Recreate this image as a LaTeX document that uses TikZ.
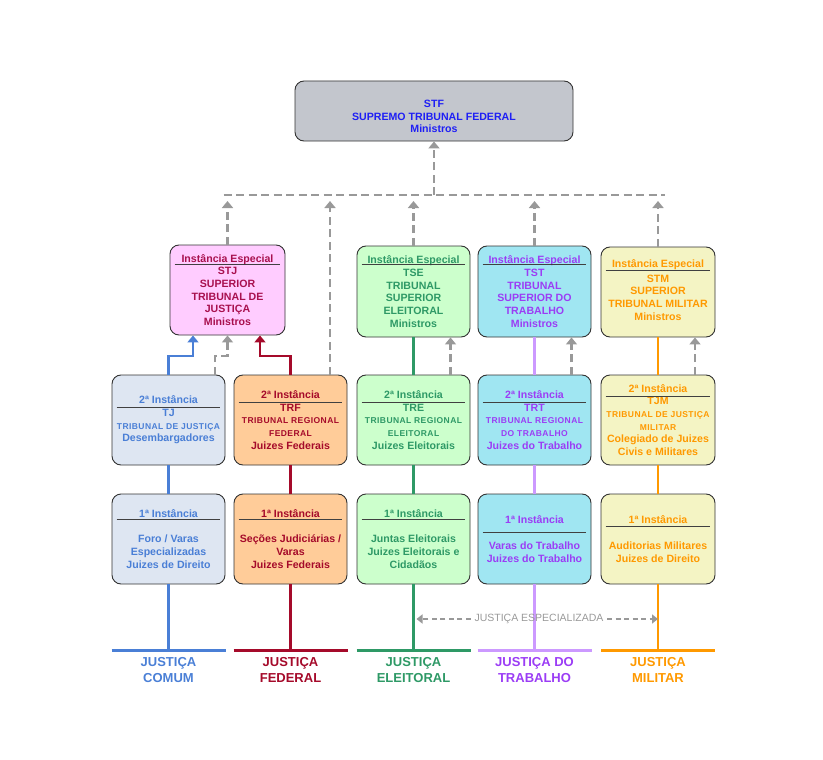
\documentclass[tikz,border=0pt]{standalone}
\usepackage{fontspec}
\setmainfont{Liberation Sans}
\newfontfamily\estreita[LetterSpace=5]{Liberation Sans}
\usetikzlibrary{arrows.meta, positioning, calc}

\definecolor{cinza}{HTML}{999999}
\definecolor{stfcor}{HTML}{C3C6CD}
\definecolor{stftxt}{HTML}{1F1FF5}
\definecolor{stjcor}{HTML}{FFCCFF}
\definecolor{stjtxt}{HTML}{A8104E}
\definecolor{azulcor}{HTML}{DEE6F2}
\definecolor{azul}{HTML}{4A7FD6}
\definecolor{vermcor}{HTML}{FFCC99}
\definecolor{verm}{HTML}{A50A2A}
\definecolor{verdecor}{HTML}{CCFFCC}
\definecolor{verde}{HTML}{2E9966}
\definecolor{ciano}{HTML}{A0E6F2}
\definecolor{roxo}{HTML}{9B3DF5}
\definecolor{lilas}{HTML}{CC99FF}
\definecolor{amarcor}{HTML}{F4F4C4}
\definecolor{laranja}{HTML}{FF9900}

\newcommand\miuda[1]{{\estreita\fontsize{8.5}{12.6}\selectfont #1}}

\begin{document}
\begin{tikzpicture}[x=1pt, y=-1pt,
  caixa/.style={draw=black!80, line width=0.9pt, rounded corners=9pt,
    minimum width=113pt, minimum height=90pt, inner sep=0pt, align=center,
    font=\bfseries\fontsize{10.6}{12.7}\selectfont},
  regra/.style={draw=black!75, line width=0.9pt},
  tracejada/.style={draw=cinza, line width=2.6pt, dash pattern=on 8pt off 4.5pt},
  seta/.style={-{Triangle[width=11pt,length=7pt]}},
  linha/.style={line width=2.6pt},
  base/.style={line width=3pt},
  rotulo/.style={align=center, font=\bfseries\fontsize{13}{16}\selectfont}]
\useasboundingbox (0,0) rectangle (823,760);

\coordinate (barra) at (434,195);
\coordinate (ponta) at (0,201);
\coordinate (dobra) at (0,356);
\coordinate (base) at (0,650);
\coordinate (rot) at (0,670);

% STF
\node[caixa, fill=stfcor, minimum width=278pt, minimum height=60pt, text=stftxt] (stf) at (434,111)
  {\rule{0pt}{18.6pt}STF\\SUPREMO TRIBUNAL FEDERAL\\Ministros};

% instancia especial
\node[caixa, fill=stjcor, text=stjtxt, minimum width=115pt] (stj) at (227.5,290)
  {Instância Especial\\STJ\\SUPERIOR\\TRIBUNAL DE\\JUSTIÇA\\Ministros};
\node[caixa, fill=verdecor, text=verde, minimum height=91pt] (tse) at (413.5,291.5)
  {Instância Especial\\TSE\\TRIBUNAL\\SUPERIOR\\ELEITORAL\\Ministros};
\node[caixa, fill=ciano, text=roxo, minimum height=91pt] (tst) at (534.5,291.5)
  {Instância Especial\\TST\\TRIBUNAL\\SUPERIOR DO\\TRABALHO\\Ministros};
\node[caixa, fill=amarcor, text=laranja, minimum width=114pt] (stm) at (658,292)
  {Instância Especial\\[1.5pt]STM\\SUPERIOR\\TRIBUNAL MILITAR\\Ministros\rule[-4pt]{0pt}{1pt}};

% 2a instancia
\node[caixa, fill=azulcor, text=azul] (tj) at (168.5,420)
  {2ª Instância\\TJ\\\miuda{TRIBUNAL DE JUSTIÇA}\\Desembargadores};
\node[caixa, fill=vermcor, text=verm] (trf) at (290.5,420)
  {2ª Instância\\TRF\\\miuda{TRIBUNAL REGIONAL}\\\miuda{FEDERAL}\\Juizes Federais};
\node[caixa, fill=verdecor, text=verde] (tre) at (413.5,420)
  {2ª Instância\\TRE\\\miuda{TRIBUNAL REGIONAL}\\\miuda{ELEITORAL}\\Juizes Eleitorais};
\node[caixa, fill=ciano, text=roxo] (trt) at (534.5,420)
  {2ª Instância\\TRT\\\miuda{TRIBUNAL REGIONAL}\\\miuda{DO TRABALHO}\\Juizes do Trabalho};
\node[caixa, fill=amarcor, text=laranja, minimum width=114pt] (tjm) at (658,420)
  {2ª Instância\\TJM\\\miuda{TRIBUNAL DE JUSTIÇA}\\\miuda{MILITAR}\\Colegiado de Juizes\\Civis e Militares};

% 1a instancia
\node[caixa, fill=azulcor, text=azul] (foro) at (168.5,539)
  {1ª Instância\\[12.5pt]Foro / Varas\\Especializadas\\Juizes de Direito};
\node[caixa, fill=vermcor, text=verm] (secoes) at (290.5,539)
  {1ª Instância\\[12.5pt]Seções Judiciárias /\\Varas\\Juizes Federais};
\node[caixa, fill=verdecor, text=verde] (juntas) at (413.5,539)
  {1ª Instância\\[12.5pt]Juntas Eleitorais\\Juizes Eleitorais e\\Cidadãos};
\node[caixa, fill=ciano, text=roxo] (varas) at (534.5,539)
  {1ª Instância\\[14pt]Varas do Trabalho\\Juizes do Trabalho};
\node[caixa, fill=amarcor, text=laranja, minimum width=114pt] (auditorias) at (658,539)
  {1ª Instância\\[14pt]Auditorias Militares\\Juizes de Direito};

% reguas sob os titulos
\foreach \n/\d in {stj/20, tse/19, tst/19, stm/24, tj/33, trf/28, tre/28, trt/28, tjm/22,
    foro/26, secoes/26, juntas/26, varas/39, auditorias/33}
  \draw[regra] ($(\n.north west)+(5,\d)$) -- ($(\n.north east)+(-5,\d)$);

% ligacoes ao STF
\draw[tracejada, seta] (barra) -- (stf.south);
\draw[tracejada] ($(stj.north |- barra)+(-4,0)$) -- ($(stm.north |- barra)+(7,0)$);
\foreach \n in {stj, tse, tst, stm}
  \draw[tracejada, seta] (\n.north) -- (\n.north |- ponta);
\draw[tracejada, seta] ($(trf.north)+(39.5,0)$) -- ($(trf.north |- ponta)+(39.5,0)$);

% recursos ao STJ
\draw[linha, azul, seta] (tj.north) |- ($(stj.south |- dobra)+(-34.5,0)$) -- ($(stj.south)+(-34.5,0)$);
\draw[linha, verm, seta] (trf.north) |- ($(stj.south |- dobra)+(32.5,0)$) -- ($(stj.south)+(32.5,0)$);
\draw[tracejada, seta] ($(tj.north)+(46.5,0)$) |- (stj.south |- dobra) -- (stj.south);
\foreach \a/\b in {tre/tse, trt/tst, tjm/stm}
  \draw[tracejada, seta] ($(\a.north)+(37,0)$) -- ($(\b.south)+(37,0)$);

% linhas de cada justica
\draw[linha, azul] (tj.south) -- (foro.north) (foro.south) -- (foro.south |- base);
\draw[linha, verm] (trf.south) -- (secoes.north) (secoes.south) -- (secoes.south |- base);
\draw[linha, verde] (tse.south) -- (tre.north) (tre.south) -- (juntas.north) (juntas.south) -- (juntas.south |- base);
\draw[linha, lilas] (tst.south) -- (trt.north) (trt.south) -- (varas.north) (varas.south) -- (varas.south |- base);
\draw[linha, laranja] (stm.south) -- (tjm.north) (tjm.south) -- (auditorias.north) (auditorias.south) -- (auditorias.south |- base);

\foreach \n/\c in {foro/azul, secoes/verm, juntas/verde, varas/lilas, auditorias/laranja}
  \draw[base, \c] ($(\n.south |- base)+(-57,0)$) -- ($(\n.south |- base)+(57,0)$);

\node[rotulo, text=azul] (comum) at (foro.south |- rot) {JUSTIÇA\\COMUM};
\node[rotulo, text=verm] (federal) at (secoes.south |- rot) {JUSTIÇA\\FEDERAL};
\node[rotulo, text=verde] (eleitoral) at (juntas.south |- rot) {JUSTIÇA\\ELEITORAL};
\node[rotulo, text=roxo] (trabalho) at (varas.south |- rot) {JUSTIÇA DO\\TRABALHO};
\node[rotulo, text=laranja] (militar) at (auditorias.south |- rot) {JUSTIÇA\\MILITAR};

% justica especializada
\node[text=cinza, font=\fontsize{10.5}{12}\selectfont] (espec) at (539,619) {JUSTIÇA ESPECIALIZADA};
\draw[draw=cinza, line width=2pt, dash pattern=on 5pt off 3.5pt, -{Triangle[width=9pt,length=6pt]}]
  (espec.west) -- ($(juntas.south |- espec)+(3,0)$);
\draw[draw=cinza, line width=2pt, dash pattern=on 5pt off 3.5pt, -{Triangle[width=9pt,length=6pt]}]
  (espec.east) -- (auditorias.south |- espec);
\end{tikzpicture}
\end{document}
